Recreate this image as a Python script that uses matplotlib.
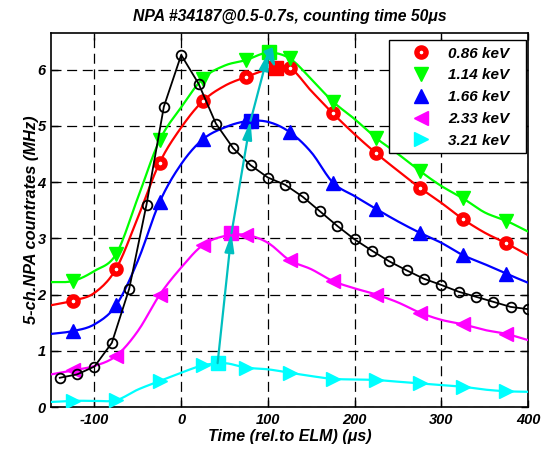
import numpy as np
import matplotlib
matplotlib.use("Agg")
import matplotlib.pyplot as plt
from matplotlib.lines import Line2D
from matplotlib.patches import Rectangle

plt.rcParams['font.family'] = ['Liberation Sans', 'DejaVu Sans']
plt.rcParams['axes.unicode_minus'] = False

# ---------------- data ----------------
t_line = [-150, -125, -100, -75, -50, -25, 0, 25, 50, 75, 100, 125, 150, 175,
          200, 225, 250, 275, 300, 325, 350, 375, 400]

e086 = [1.81, 1.89, 2.03, 2.46, 3.37, 4.34, 4.97, 5.44, 5.71, 5.87, 6.00, 6.03,
        5.62, 5.22, 4.85, 4.51, 4.20, 3.90, 3.63, 3.34, 3.10, 2.91, 2.70]
e114 = [2.22, 2.24, 2.42, 2.72, 3.72, 4.74, 5.33, 5.84, 6.07, 6.17, 6.30, 6.20,
        5.83, 5.43, 5.12, 4.78, 4.50, 4.20, 3.93, 3.71, 3.46, 3.31, 3.12]
e166 = [1.30, 1.35, 1.47, 1.81, 2.60, 3.64, 4.32, 4.76, 4.97, 5.08, 5.07, 4.89,
        4.53, 3.99, 3.75, 3.52, 3.30, 3.10, 2.92, 2.70, 2.54, 2.37, 2.21]
e233 = [0.58, 0.65, 0.73, 0.91, 1.35, 1.99, 2.48, 2.88, 3.04, 3.06, 2.92, 2.61,
        2.45, 2.24, 2.11, 2.00, 1.86, 1.68, 1.55, 1.47, 1.37, 1.30, 1.19]
e321 = [0.09, 0.11, 0.11, 0.12, 0.31, 0.46, 0.61, 0.74, 0.78, 0.70, 0.67, 0.61,
        0.55, 0.50, 0.49, 0.48, 0.45, 0.42, 0.39, 0.36, 0.31, 0.28, 0.27]

t_total = [-140, -120, -100, -80, -60, -40, -20, 0, 20, 40, 60, 80, 100, 120,
           140, 160, 180, 200, 220, 240, 260, 280, 300, 320, 340, 360, 380, 400]
total = [0.52, 0.58, 0.72, 1.14, 2.10, 3.60, 5.34, 6.26, 5.75, 5.04, 4.60, 4.30,
         4.08, 3.95, 3.74, 3.48, 3.22, 2.98, 2.78, 2.59, 2.43, 2.28, 2.17, 2.05,
         1.96, 1.87, 1.78, 1.74]

# peak positions (time, value) for 3.21, 2.33, 1.66, 1.14, 0.86 keV
peak_t = [42, 58, 80, 101, 109]
peak_v = [0.78, 3.09, 5.09, 6.32, 6.02]

labels = ['0.86 keV', '1.14 keV', '1.66 keV', '2.33 keV', '3.21 keV']
title = 'NPA #34187@0.5-0.7s, counting time 50\u03bcs'
xlabel = 'Time (rel.to ELM) (\u03bcs)'
ylabel = '5-ch.NPA countrates (MHz)'


def smooth(x, y, n=12):
    x = np.asarray(x, float)
    y = np.asarray(y, float)
    xp = np.concatenate([[2 * x[0] - x[1]], x, [2 * x[-1] - x[-2]]])
    yp = np.concatenate([[2 * y[0] - y[1]], y, [2 * y[-1] - y[-2]]])
    xs, ys = [], []
    for i in range(1, len(xp) - 2):
        p0, p1, p2, p3 = yp[i - 1], yp[i], yp[i + 1], yp[i + 2]
        s = np.linspace(0, 1, n, endpoint=False)
        yy = 0.5 * ((2 * p1) + (-p0 + p2) * s + (2 * p0 - 5 * p1 + 4 * p2 - p3) * s ** 2
                    + (-p0 + 3 * p1 - 3 * p2 + p3) * s ** 3)
        xs.append(xp[i] + (xp[i + 1] - xp[i]) * s)
        ys.append(yy)
    xs.append([x[-1]])
    ys.append([y[-1]])
    return np.concatenate(xs), np.concatenate(ys)


fig = plt.figure(figsize=(5.44, 4.54), dpi=100)
ax = fig.add_axes([0.094, 0.1035, 0.8766, 0.8238])

series = [
    (e086, 'red', 'o'),
    (e114, '#00FF00', 'v'),
    (e166, 'blue', '^'),
    (e233, '#FF00FF', '<'),
    (e321, '#00FFFF', '>'),
]
tl = np.array(t_line)
handles = []
for (vals, col, mk), lab in zip(series, labels):
    xs, ys = smooth(t_line, vals)
    ax.plot(xs, ys, '-', color=col, lw=1.6, zorder=3)
    v = np.array(vals)
    if mk == 'o':
        kw = dict(ls='none', marker='o', ms=6.6, mfc='white', mec=col, mew=3.9)
    else:
        kw = dict(ls='none', marker=mk, ms=10, mfc=col, mec=col, mew=1)
    ax.plot(tl[1::2], v[1::2], zorder=4, **kw)
    handles.append(Line2D([], [], **kw))

ax.plot(t_total, total, '-', color='black', lw=1.3, marker='o', ms=7,
        mfc='none', mec='black', mew=1.3, zorder=5)

sq_cols = ['#00FFFF', '#FF00FF', 'blue', '#00FF00', 'red']
for tt, vv, c in zip(peak_t, peak_v, sq_cols):
    ax.plot([tt], [vv], ls='none', marker='s', ms=10.5, mfc=c, mec=c, zorder=6)

for i in range(len(peak_t) - 1):
    ax.annotate('', xy=(peak_t[i + 1], peak_v[i + 1]), xytext=(peak_t[i], peak_v[i]),
                arrowprops=dict(arrowstyle='-|>,head_length=1.1,head_width=0.28',
                                color='#00BFBF', lw=1.6, shrinkA=0, shrinkB=0),
                zorder=7)

ax.set_xlim(-150, 400)
ax.set_ylim(0, 6.65)
ax.set_xticks([-100, 0, 100, 200, 300, 400])
ax.set_yticks([0, 1, 2, 3, 4, 5, 6])
ax.grid(True, color='black', ls=(0, (8, 4.5)), lw=0.9)
ax.tick_params(direction='in', length=5, width=1, top=True, right=True,
               labelsize=10.5, pad=4)
for lab in ax.get_xticklabels() + ax.get_yticklabels():
    lab.set_fontweight('bold')
    lab.set_fontstyle('italic')
for s in ax.spines.values():
    s.set_linewidth(1.2)

ax.set_title(title, fontsize=11.3, fontweight='bold', fontstyle='italic', pad=9)
ax.set_xlabel(xlabel, fontsize=11.5, fontweight='bold', fontstyle='italic', labelpad=2)
ax.set_ylabel(ylabel, fontsize=11.8, fontweight='bold', fontstyle='italic', labelpad=-1)

# legend frame (axes fraction)
fx0, fx1 = 0.7086, 0.9958
fy0, fy1 = 0.679, 0.981
frame = Rectangle((fx0, fy0), fx1 - fx0, fy1 - fy0, transform=ax.transAxes,
                  facecolor='white', edgecolor='black', lw=1.0, zorder=9)
ax.add_patch(frame)
leg = ax.legend(handles, labels, loc='upper left', bbox_to_anchor=(fx0, fy1),
                frameon=False, borderaxespad=0, borderpad=0.42,
                handletextpad=0.16, handlelength=3.3, labelspacing=0.51,
                prop=dict(size=11, weight='bold', style='italic'))
leg.set_zorder(10)

fig.savefig('out.png', dpi=100)
